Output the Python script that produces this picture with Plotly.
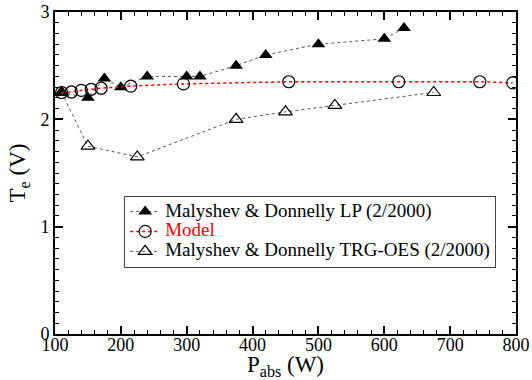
import plotly.graph_objects as go

lp_x = [110, 150, 175, 200, 240, 300, 320, 375, 420, 500, 600, 630]
lp_y = [2.25, 2.2, 2.38, 2.3, 2.4, 2.4, 2.4, 2.5, 2.6, 2.7, 2.75, 2.85]

model_x = [110, 125, 140, 155, 170, 215, 295, 455, 622, 745, 795]
model_y = [2.25, 2.255, 2.27, 2.28, 2.29, 2.31, 2.33, 2.35, 2.35, 2.35, 2.34]

trg_x = [110, 150, 225, 375, 450, 525, 675]
trg_y = [2.25, 1.75, 1.65, 2.0, 2.07, 2.13, 2.25]

FONT = "Liberation Serif, Times New Roman, serif"

def leg(txt, color="black"):
    return f"<span style='font-size:19px;color:{color}'>{txt}</span>"

fig = go.Figure()
fig.add_trace(go.Scatter(
    x=lp_x, y=lp_y, mode="lines+markers",
    name=leg("Malyshev &amp; Donnelly LP (2/2000)"),
    line=dict(color="#555555", width=1, dash="dot"),
    marker=dict(symbol="triangle-up", size=12, color="black"),
))
fig.add_trace(go.Scatter(
    x=model_x, y=model_y, mode="lines+markers",
    name=leg("Model", "red"),
    line=dict(color="red", width=1.5, dash="dot"),
    marker=dict(symbol="circle-open", size=12, color="black", line=dict(width=1.2)),
))
fig.add_trace(go.Scatter(
    x=trg_x, y=trg_y, mode="lines+markers",
    name=leg("Malyshev &amp; Donnelly TRG-OES (2/2000)"),
    line=dict(color="#555555", width=1, dash="dot"),
    marker=dict(symbol="triangle-up-open", size=12, color="black", line=dict(width=1.2)),
))

axis_common = dict(
    showgrid=False, zeroline=False, showline=True, linecolor="black", linewidth=2,
    mirror="allticks", ticks="inside", ticklen=8, tickwidth=1.5, tickcolor="black",
    tickfont=dict(family=FONT, size=18, color="black"), automargin=False,
)

fig.update_xaxes(
    range=[100, 800], tickvals=[100, 200, 300, 400, 500, 600, 700, 800],
    minor=dict(dtick=20, ticks="inside", ticklen=4, tickwidth=1, tickcolor="black"),
    ticklabelstandoff=-7,
    title=dict(text="P<sub>abs</sub> (W)", font=dict(family=FONT, size=23, color="black"), standoff=14),
    **axis_common,
)
fig.update_yaxes(
    range=[0, 3], tickvals=[0, 1, 2, 3],
    minor=dict(dtick=0.1, ticks="inside", ticklen=4, tickwidth=1, tickcolor="black"),
    title=dict(text="T<sub>e</sub> (V)", font=dict(family=FONT, size=23, color="black"), standoff=8),
    **axis_common,
)

fig.update_layout(
    width=532, height=380,
    margin=dict(l=55, r=16, t=12, b=46, autoexpand=False),
    paper_bgcolor="white", plot_bgcolor="white",
    font=dict(family=FONT, color="black"),
    legend=dict(
        x=0.15, y=0.43, xanchor="left", yanchor="top",
        bordercolor="#444444", borderwidth=1, bgcolor="white",
        font=dict(family=FONT, size=13, color="black"),
        tracegroupgap=0, itemwidth=30,
    ),
    showlegend=True,
)

fig.write_html("out.html")
